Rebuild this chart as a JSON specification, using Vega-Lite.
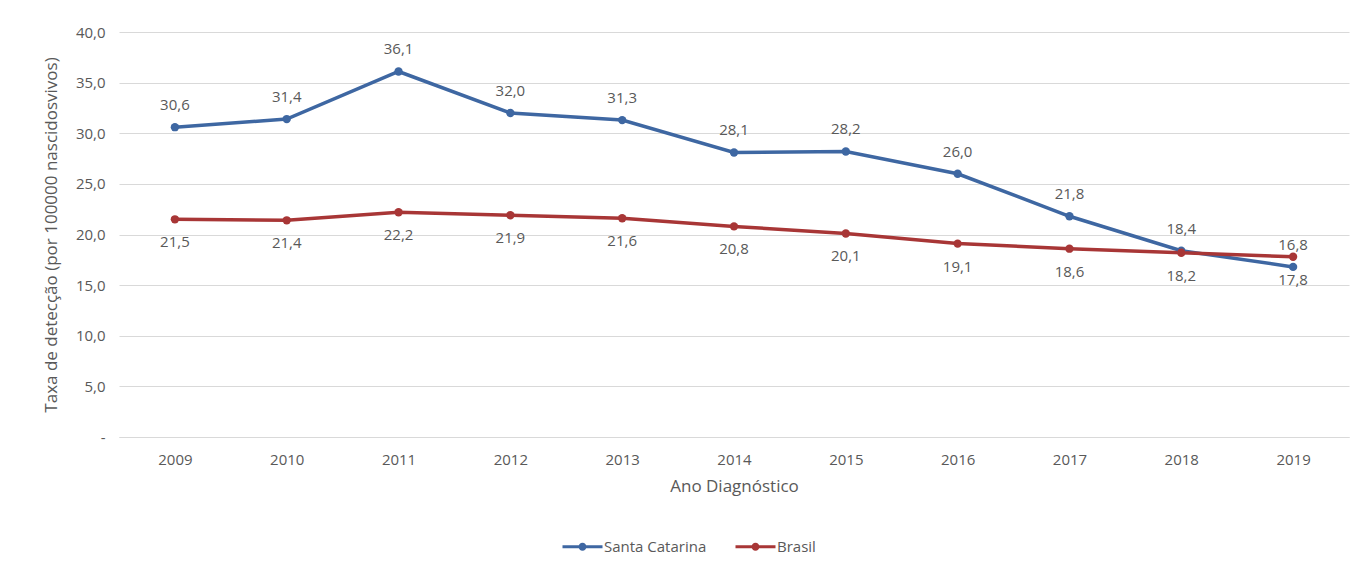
{
  "$schema": "https://vega.github.io/schema/vega-lite/v6.json",
  "width": 1230,
  "height": 405,
  "autosize": {"type": "none"},
  "padding": {"left": 119, "top": 32, "right": 13, "bottom": 130},
  "background": "white",
  "config": {
    "font": "Open Sans",
    "view": {"stroke": null},
    "locale": {"number": {"decimal": ",", "thousands": ".", "grouping": [3], "currency": ["R$", ""]}},
    "axis": {"labelColor": "#595959", "titleColor": "#595959", "labelFont": "Open Sans", "titleFont": "Open Sans", "titleFontWeight": "normal"}
  },
  "data": {
    "values": [
      {"ano": "2009", "local": "Santa Catarina", "taxa": 30.6},
      {"ano": "2010", "local": "Santa Catarina", "taxa": 31.4},
      {"ano": "2011", "local": "Santa Catarina", "taxa": 36.1},
      {"ano": "2012", "local": "Santa Catarina", "taxa": 32.0},
      {"ano": "2013", "local": "Santa Catarina", "taxa": 31.3},
      {"ano": "2014", "local": "Santa Catarina", "taxa": 28.1},
      {"ano": "2015", "local": "Santa Catarina", "taxa": 28.2},
      {"ano": "2016", "local": "Santa Catarina", "taxa": 26.0},
      {"ano": "2017", "local": "Santa Catarina", "taxa": 21.8},
      {"ano": "2018", "local": "Santa Catarina", "taxa": 18.4},
      {"ano": "2019", "local": "Santa Catarina", "taxa": 16.8},
      {"ano": "2009", "local": "Brasil", "taxa": 21.5},
      {"ano": "2010", "local": "Brasil", "taxa": 21.4},
      {"ano": "2011", "local": "Brasil", "taxa": 22.2},
      {"ano": "2012", "local": "Brasil", "taxa": 21.9},
      {"ano": "2013", "local": "Brasil", "taxa": 21.6},
      {"ano": "2014", "local": "Brasil", "taxa": 20.8},
      {"ano": "2015", "local": "Brasil", "taxa": 20.1},
      {"ano": "2016", "local": "Brasil", "taxa": 19.1},
      {"ano": "2017", "local": "Brasil", "taxa": 18.6},
      {"ano": "2018", "local": "Brasil", "taxa": 18.2},
      {"ano": "2019", "local": "Brasil", "taxa": 17.8}
    ]
  },
  "encoding": {
    "x": {
      "field": "ano", "type": "ordinal", "scale": {"type": "point", "padding": 0.5},
      "axis": {"title": "Ano Diagnóstico", "labelAngle": 0, "labelFontSize": 15, "titleFontSize": 17, "labelPadding": 15, "titlePadding": 11, "ticks": false, "domain": true, "domainColor": "#d9d9d9", "grid": false}
    },
    "y": {
      "field": "taxa", "type": "quantitative", "scale": {"domain": [0, 40]},
      "axis": {"title": "Taxa de detecção (por 100000 nascidosvivos)", "values": [0, 5, 10, 15, 20, 25, 30, 35, 40], "labelExpr": "datum.value == 0 ? '-' : replace(format(datum.value, '.1f'), '.', ',')", "labelFontSize": 15, "titleFontSize": 17, "labelPadding": 14, "titlePadding": 15, "ticks": false, "domain": false, "gridColor": "#d9d9d9", "gridWidth": 1}
    },
    "color": {
      "field": "local", "type": "nominal",
      "scale": {"domain": ["Santa Catarina", "Brasil"], "range": ["#3E67A2", "#A83636"]},
      "legend": {
        "title": null, "orient": "none", "direction": "horizontal", "legendX": 451, "legendY": 502,
        "symbolType": "M -1.6 -0.12 L 1.6 -0.12 L 1.6 0.12 L -1.6 0.12 Z M -0.32 0 A 0.32 0.32 0 1 1 0.32 0 A 0.32 0.32 0 1 1 -0.32 0 Z",
        "symbolSize": 625, "symbolStrokeWidth": 0, "symbolOpacity": 1, "labelFontSize": 15, "labelColor": "#595959", "labelFont": "Open Sans", "columnPadding": 28, "labelOffset": 9
      }
    }
  },
  "layer": [
    {"mark": {"type": "line", "strokeWidth": 3.5}},
    {"mark": {"type": "circle", "size": 70, "opacity": 1}},
    {
      "transform": [{"filter": "datum.local == 'Santa Catarina'"}],
      "mark": {"type": "text", "dy": -22, "fontSize": 15, "font": "Open Sans"},
      "encoding": {"text": {"field": "taxa", "type": "quantitative", "format": ".1f"}, "color": {"value": "#595959"}}
    },
    {
      "transform": [{"filter": "datum.local == 'Brasil'"}],
      "mark": {"type": "text", "dy": 23, "fontSize": 15, "font": "Open Sans"},
      "encoding": {"text": {"field": "taxa", "type": "quantitative", "format": ".1f"}, "color": {"value": "#595959"}}
    }
  ]
}
